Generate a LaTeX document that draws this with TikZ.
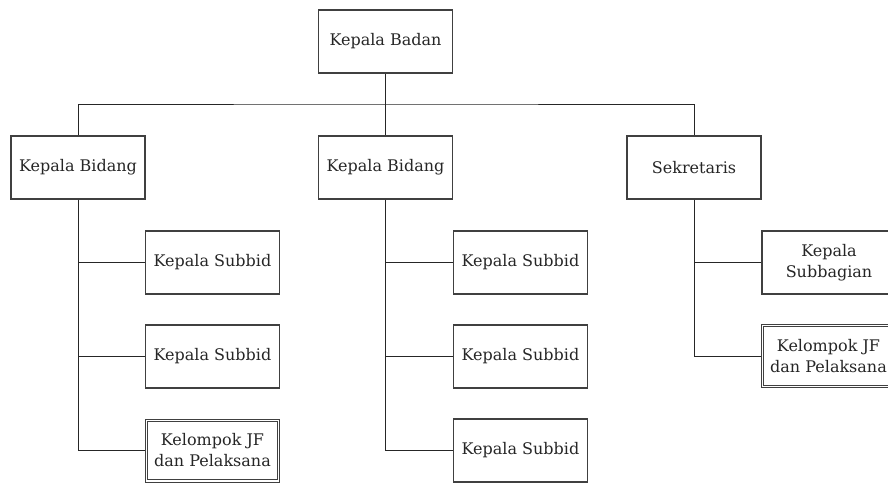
\documentclass[tikz,border=0pt]{standalone}
\usepackage{fontspec}
\setmainfont{DejaVu Serif}
\begin{document}
\begin{tikzpicture}[x=1pt,y=-1pt,
  unit/.style={draw=black!75, line width=1.1pt, rectangle, minimum width=134pt,
    minimum height=63pt, inner sep=2pt, align=center, fill=white,
    font=\fontsize{16}{21}\selectfont, text=black!85},
  group/.style={unit, line width=0.9pt},
  inner frame/.style={draw=black!75, line width=0.9pt},
  link/.style={draw=black!85, line width=1pt}]
\useasboundingbox (0,0) rectangle (888,483);

% top level
\node[unit] (head) at (385.5,41.5) {Kepala Badan};
\coordinate (bus) at (385.5,104);

% second level
\node[unit] (bid1) at (78,167.5) {Kepala Bidang};
\node[unit] (bid2) at (385.5,167.5) {Kepala Bidang};
\node[unit] (sek) at (694,167.5) {Sekretaris};

% units under the first Kepala Bidang
\node[unit] (a1) at (212.5,262.5) {Kepala Subbid};
\node[unit] (a2) at (212.5,356.5) {Kepala Subbid};
\node[group] (a3) at (212.5,450.5) {Kelompok JF\\dan Pelaksana};

% units under the second Kepala Bidang
\node[unit] (b1) at (520.5,262.5) {Kepala Subbid};
\node[unit] (b2) at (520.5,356.5) {Kepala Subbid};
\node[unit] (b3) at (520.5,450.5) {Kepala Subbid};

% units under Sekretaris
\node[unit] (c1) at (829,262.5) {Kepala\\Subbagian};
\node[group] (c2) at (828.5,356) {Kelompok JF\\dan Pelaksana};

% second line of the double frames
\foreach \g in {a3,c2}
  \draw[inner frame] ([shift={(2.6,2.6)}]\g.north west)
    rectangle ([shift={(-2.6,-2.6)}]\g.south east);

% connectors
\draw[link] (head.south) -- (bid2.north);
\draw[link] (bid1.north) |- (bus) -| (sek.north);

\draw[link] (bid1.south) |- (a3.west);
\draw[link] (bid1.south |- a1.west) -- (a1.west);
\draw[link] (bid1.south |- a2.west) -- (a2.west);

\draw[link] (bid2.south) |- (b3.west);
\draw[link] (bid2.south |- b1.west) -- (b1.west);
\draw[link] (bid2.south |- b2.west) -- (b2.west);

\draw[link] (sek.south) |- (c2.west);
\draw[link] (sek.south |- c1.west) -- (c1.west);
\end{tikzpicture}
\end{document}
